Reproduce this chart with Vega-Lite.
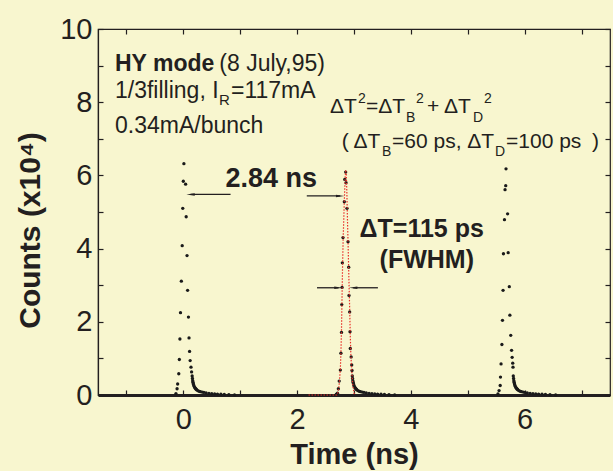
{
  "$schema": "https://vega.github.io/schema/vega-lite/v6.json",
  "width": 512,
  "height": 366,
  "autosize": {"type": "none"},
  "padding": {"left": 98, "top": 29, "right": 3, "bottom": 76},
  "background": "#f8f6cf",
  "config": {
    "font": "Liberation Sans",
    "view": {"stroke": "#231f20", "strokeWidth": 1.2},
    "axis": {"grid": false}
  },
  "datasets": {
    "pts": [
      {"t": -0.13, "c": 0.04}, {"t": -0.11, "c": 0.17}, {"t": -0.1, "c": 0.3}, {"t": -0.08, "c": 0.58}, {"t": -0.07, "c": 0.97}, {"t": -0.06, "c": 1.53}, {"t": -0.05, "c": 2.25}, {"t": -0.035, "c": 3.11}, {"t": -0.02, "c": 4.08}, {"t": -0.01, "c": 5.1}, {"t": 0.0, "c": 5.84}, {"t": 0.01, "c": 6.32}, {"t": 0.04, "c": 5.76}, {"t": 0.05, "c": 4.87}, {"t": 0.065, "c": 3.81}, {"t": 0.075, "c": 2.86}, {"t": 0.09, "c": 2.13}, {"t": 0.1, "c": 1.56}, {"t": 0.11, "c": 1.19}, {"t": 0.12, "c": 0.94}, {"t": 0.135, "c": 0.76}, {"t": 0.145, "c": 0.63},
      {"t": 0.155, "c": 0.52}, {"t": 0.16, "c": 0.45}, {"t": 0.165, "c": 0.39}, {"t": 0.17, "c": 0.35}, {"t": 0.175, "c": 0.31}, {"t": 0.18, "c": 0.28}, {"t": 0.19, "c": 0.24}, {"t": 0.2, "c": 0.21}, {"t": 0.21, "c": 0.185}, {"t": 0.22, "c": 0.165}, {"t": 0.23, "c": 0.15}, {"t": 0.24, "c": 0.135}, {"t": 0.26, "c": 0.115}, {"t": 0.28, "c": 0.1}, {"t": 0.3, "c": 0.09}, {"t": 0.33, "c": 0.08}, {"t": 0.36, "c": 0.07}, {"t": 0.4, "c": 0.06}, {"t": 0.45, "c": 0.045}, {"t": 0.5, "c": 0.035}, {"t": 0.55, "c": 0.03}, {"t": 0.6, "c": 0.025}, {"t": 0.66, "c": 0.02}, {"t": 0.72, "c": 0.015}, {"t": 0.8, "c": 0.01}, {"t": 0.9, "c": 0.005},
      {"t": 2.69, "c": 0.02}, {"t": 2.71, "c": 0.05}, {"t": 2.725, "c": 0.17}, {"t": 2.74, "c": 0.38}, {"t": 2.76, "c": 0.68}, {"t": 2.77, "c": 1.14}, {"t": 2.78, "c": 1.71}, {"t": 2.785, "c": 2.47}, {"t": 2.79, "c": 2.94}, {"t": 2.795, "c": 3.61}, {"t": 2.807, "c": 4.3}, {"t": 2.83, "c": 5.28}, {"t": 2.837, "c": 5.89}, {"t": 2.854, "c": 6.09}, {"t": 2.86, "c": 5.8}, {"t": 2.877, "c": 5.1}, {"t": 2.895, "c": 4.19}, {"t": 2.907, "c": 3.49}, {"t": 2.912, "c": 2.72}, {"t": 2.924, "c": 2.27}, {"t": 2.93, "c": 1.73}, {"t": 2.935, "c": 1.27}, {"t": 2.95, "c": 1.04}, {"t": 2.96, "c": 0.82}, {"t": 2.965, "c": 0.67},
      {"t": 2.97, "c": 0.52}, {"t": 2.975, "c": 0.45}, {"t": 2.98, "c": 0.39}, {"t": 2.985, "c": 0.35}, {"t": 2.99, "c": 0.31}, {"t": 2.995, "c": 0.28}, {"t": 3.005, "c": 0.24}, {"t": 3.015, "c": 0.21}, {"t": 3.025, "c": 0.185}, {"t": 3.035, "c": 0.165}, {"t": 3.045, "c": 0.15}, {"t": 3.055, "c": 0.135}, {"t": 3.075, "c": 0.115}, {"t": 3.095, "c": 0.1}, {"t": 3.115, "c": 0.09}, {"t": 3.145, "c": 0.08}, {"t": 3.175, "c": 0.07}, {"t": 3.215, "c": 0.06}, {"t": 3.265, "c": 0.045}, {"t": 3.315, "c": 0.035}, {"t": 3.365, "c": 0.03}, {"t": 3.415, "c": 0.025}, {"t": 3.475, "c": 0.02}, {"t": 3.535, "c": 0.015}, {"t": 3.615, "c": 0.01}, {"t": 3.715, "c": 0.005},
      {"t": 5.53, "c": 0.03}, {"t": 5.55, "c": 0.12}, {"t": 5.57, "c": 0.26}, {"t": 5.575, "c": 0.49}, {"t": 5.585, "c": 0.85}, {"t": 5.6, "c": 1.38}, {"t": 5.61, "c": 2.04}, {"t": 5.62, "c": 2.86}, {"t": 5.627, "c": 3.86}, {"t": 5.645, "c": 4.79}, {"t": 5.655, "c": 5.61}, {"t": 5.667, "c": 5.72}, {"t": 5.672, "c": 6.18}, {"t": 5.7, "c": 4.95}, {"t": 5.71, "c": 3.89}, {"t": 5.73, "c": 2.96}, {"t": 5.74, "c": 2.18}, {"t": 5.755, "c": 1.63}, {"t": 5.77, "c": 1.22}, {"t": 5.78, "c": 1.03}, {"t": 5.79, "c": 0.87}, {"t": 5.795, "c": 0.76},
      {"t": 5.8, "c": 0.52}, {"t": 5.805, "c": 0.45}, {"t": 5.81, "c": 0.39}, {"t": 5.815, "c": 0.35}, {"t": 5.82, "c": 0.31}, {"t": 5.825, "c": 0.28}, {"t": 5.835, "c": 0.24}, {"t": 5.845, "c": 0.21}, {"t": 5.855, "c": 0.185}, {"t": 5.865, "c": 0.165}, {"t": 5.875, "c": 0.15}, {"t": 5.885, "c": 0.135}, {"t": 5.905, "c": 0.115}, {"t": 5.925, "c": 0.1}, {"t": 5.945, "c": 0.09}, {"t": 5.975, "c": 0.08}, {"t": 6.005, "c": 0.07}, {"t": 6.045, "c": 0.06}, {"t": 6.095, "c": 0.045}, {"t": 6.145, "c": 0.035}, {"t": 6.195, "c": 0.03}, {"t": 6.245, "c": 0.025}, {"t": 6.305, "c": 0.02}, {"t": 6.365, "c": 0.015}, {"t": 6.445, "c": 0.01}, {"t": 6.545, "c": 0.005}
    ],
    "fit": [
      {"t": 2.2, "c": 0}, {"t": 2.4, "c": 0}, {"t": 2.6, "c": 0}, {"t": 2.7, "c": 0}, {"t": 2.72, "c": 0.08}, {"t": 2.74, "c": 0.3}, {"t": 2.76, "c": 0.7}, {"t": 2.77, "c": 1.15}, {"t": 2.78, "c": 1.75}, {"t": 2.79, "c": 2.7}, {"t": 2.8, "c": 3.6}, {"t": 2.81, "c": 4.3}, {"t": 2.83, "c": 5.3}, {"t": 2.845, "c": 5.95}, {"t": 2.855, "c": 6.15}, {"t": 2.865, "c": 6.0}, {"t": 2.875, "c": 5.5}, {"t": 2.885, "c": 4.8}, {"t": 2.895, "c": 4.2}, {"t": 2.91, "c": 3.2}, {"t": 2.925, "c": 2.3}, {"t": 2.935, "c": 1.6}, {"t": 2.945, "c": 1.1}, {"t": 2.955, "c": 0.8}, {"t": 2.965, "c": 0.55}, {"t": 2.98, "c": 0.25}, {"t": 3.0, "c": 0.05}, {"t": 3.02, "c": 0}
    ],
    "arrows": [
      {"t": 0.127, "t2": 0.83, "c": 5.48, "dir": "left"},
      {"t": 2.17, "t2": 2.756, "c": 5.44, "dir": "right"},
      {"t": 2.35, "t2": 2.726, "c": 2.93, "dir": "right"},
      {"t": 2.986, "t2": 3.42, "c": 2.93, "dir": "left"}
    ],
    "notes": [
      {"t": 1.545, "c": 5.69, "text": "2.84 ns", "group": "measure"},
      {"t": 4.19, "c": 4.325, "text": "ΔT=115 ps", "group": "width"},
      {"t": 4.28, "c": 3.46, "text": "(FWHM)", "group": "width"},
      {"t": -1.201, "c": 8.85, "text": "HY mode", "group": "title"},
      {"t": 0.632, "c": 8.85, "text": "(8 July,95)", "group": "info"},
      {"t": -1.201, "c": 8.107, "text": "1/3filling, I", "group": "info"},
      {"t": 0.838, "c": 8.107, "text": "=117mA", "group": "info"},
      {"t": -1.201, "c": 7.15, "text": "0.34mA/bunch", "group": "info"},
      {"t": 0.627, "c": 7.92, "text": "R", "group": "infoscript"},
      {"t": 2.578, "c": 7.7, "text": "ΔT", "group": "formula"},
      {"t": 3.211, "c": 7.7, "text": "=ΔT", "group": "formula"},
      {"t": 4.283, "c": 7.7, "text": "+ ΔT", "group": "formula"},
      {"t": 2.784, "c": 6.74, "text": "( ΔT", "group": "formula"},
      {"t": 3.668, "c": 6.74, "text": "=60 ps, ΔT", "group": "formula"},
      {"t": 5.672, "c": 6.74, "text": "=100 ps", "group": "formula"},
      {"t": 7.183, "c": 6.74, "text": ")", "group": "formula"},
      {"t": 3.07, "c": 7.97, "text": "2", "group": "script"},
      {"t": 3.914, "c": 7.467, "text": "B", "group": "script"},
      {"t": 4.09, "c": 7.97, "text": "2", "group": "script"},
      {"t": 5.092, "c": 7.467, "text": "D", "group": "script"},
      {"t": 5.285, "c": 7.97, "text": "2", "group": "script"},
      {"t": 3.492, "c": 6.53, "text": "B", "group": "script"},
      {"t": 5.478, "c": 6.53, "text": "D", "group": "script"}
    ]
  },
  "layer": [
    {
      "data": {"name": "pts"},
      "mark": {"type": "circle", "size": 11, "color": "#1a1a1a", "opacity": 1},
      "encoding": {
        "x": {
          "field": "t", "type": "quantitative",
          "scale": {"domain": [-1.5, 7.5], "nice": false, "zero": false},
          "axis": {
            "orient": "bottom", "values": [-1, 0, 1, 2, 3, 4, 5, 6, 7],
            "labelExpr": "datum.value % 2 == 0 ? datum.label : ''",
            "tickSize": -5, "tickWidth": 1.2, "tickColor": "#231f20",
            "domainWidth": 3, "domainColor": "#231f20",
            "labelFontSize": 29, "labelColor": "#231f20", "labelPadding": 15,
            "labelFlush": false,
            "title": "Time (ns)", "titleFontSize": 29, "titleFontWeight": "bold",
            "titleColor": "#231f20", "titlePadding": 6
          }
        },
        "y": {
          "field": "c", "type": "quantitative",
          "scale": {"domain": [0, 10], "nice": false, "zero": false},
          "axis": {
            "orient": "left", "values": [0, 1, 2, 3, 4, 5, 6, 7, 8, 9, 10],
            "labelExpr": "datum.value % 2 == 0 ? datum.label : ''",
            "tickSize": -5, "tickWidth": 1.2, "tickColor": "#231f20",
            "domainWidth": 1.2, "domainColor": "#231f20",
            "labelFontSize": 29, "labelColor": "#231f20", "labelPadding": 11,
            "labelFlush": false,
            "title": "Counts (x10⁴)", "titleFontSize": 30, "titleFontWeight": "bold",
            "titleColor": "#231f20", "titlePadding": 14, "titleY": 201
          }
        }
      }
    },
    {
      "data": {"name": "fit"},
      "mark": {"type": "line", "color": "#e8302a", "strokeWidth": 1.2, "strokeDash": [1.5, 1.5]},
      "encoding": {
        "x": {
          "field": "t", "type": "quantitative",
          "axis": {
            "orient": "top", "values": [-1, 0, 1, 2, 3, 4, 5, 6, 7], "labels": false,
            "title": null, "domain": false, "tickSize": -5, "tickWidth": 1.2, "tickColor": "#231f20"
          }
        },
        "y": {
          "field": "c", "type": "quantitative",
          "axis": {
            "orient": "right", "values": [0, 1, 2, 3, 4, 5, 6, 7, 8, 9, 10], "labels": false,
            "title": null, "domain": false, "tickSize": -5, "tickWidth": 1.2, "tickColor": "#231f20"
          }
        }
      }
    },
    {
      "data": {"name": "arrows"},
      "mark": {"type": "rule", "color": "#231f20", "strokeWidth": 1.3},
      "encoding": {
        "x": {"field": "t", "type": "quantitative", "axis": null},
        "x2": {"field": "t2"},
        "y": {"field": "c", "type": "quantitative", "axis": null}
      }
    },
    {
      "data": {"name": "arrows"},
      "transform": [{"filter": "datum.dir == 'left'"}],
      "mark": {"type": "point", "shape": "M-1,0L1,-0.3L1,0.3Z", "size": 70, "filled": true, "color": "#231f20", "opacity": 1},
      "encoding": {
        "x": {"field": "t", "type": "quantitative", "axis": null},
        "y": {"field": "c", "type": "quantitative", "axis": null}
      }
    },
    {
      "data": {"name": "arrows"},
      "transform": [{"filter": "datum.dir == 'right'"}],
      "mark": {"type": "point", "shape": "M1,0L-1,-0.3L-1,0.3Z", "size": 70, "filled": true, "color": "#231f20", "opacity": 1},
      "encoding": {
        "x": {"field": "t2", "type": "quantitative", "axis": null},
        "y": {"field": "c", "type": "quantitative", "axis": null}
      }
    },
    {
      "data": {"name": "notes"},
      "transform": [{"filter": "datum.group == 'measure'"}],
      "mark": {"type": "text", "align": "center", "baseline": "alphabetic", "fontSize": 27, "fontWeight": "bold", "color": "#231f20"},
      "encoding": {
        "x": {"field": "t", "type": "quantitative", "axis": null},
        "y": {"field": "c", "type": "quantitative", "axis": null},
        "text": {"field": "text"}
      }
    },
    {
      "data": {"name": "notes"},
      "transform": [{"filter": "datum.group == 'width'"}],
      "mark": {"type": "text", "align": "center", "baseline": "alphabetic", "fontSize": 25, "fontWeight": "bold", "color": "#231f20"},
      "encoding": {
        "x": {"field": "t", "type": "quantitative", "axis": null},
        "y": {"field": "c", "type": "quantitative", "axis": null},
        "text": {"field": "text"}
      }
    },
    {
      "data": {"name": "notes"},
      "transform": [{"filter": "datum.group == 'title'"}],
      "mark": {"type": "text", "align": "left", "baseline": "alphabetic", "fontSize": 23, "fontWeight": "bold", "color": "#231f20"},
      "encoding": {
        "x": {"field": "t", "type": "quantitative", "axis": null},
        "y": {"field": "c", "type": "quantitative", "axis": null},
        "text": {"field": "text"}
      }
    },
    {
      "data": {"name": "notes"},
      "transform": [{"filter": "datum.group == 'info'"}],
      "mark": {"type": "text", "align": "left", "baseline": "alphabetic", "fontSize": 23, "color": "#231f20"},
      "encoding": {
        "x": {"field": "t", "type": "quantitative", "axis": null},
        "y": {"field": "c", "type": "quantitative", "axis": null},
        "text": {"field": "text"}
      }
    },
    {
      "data": {"name": "notes"},
      "transform": [{"filter": "datum.group == 'infoscript'"}],
      "mark": {"type": "text", "align": "left", "baseline": "alphabetic", "fontSize": 15, "color": "#231f20"},
      "encoding": {
        "x": {"field": "t", "type": "quantitative", "axis": null},
        "y": {"field": "c", "type": "quantitative", "axis": null},
        "text": {"field": "text"}
      }
    },
    {
      "data": {"name": "notes"},
      "transform": [{"filter": "datum.group == 'formula'"}],
      "mark": {"type": "text", "align": "left", "baseline": "alphabetic", "fontSize": 21, "color": "#231f20"},
      "encoding": {
        "x": {"field": "t", "type": "quantitative", "axis": null},
        "y": {"field": "c", "type": "quantitative", "axis": null},
        "text": {"field": "text"}
      }
    },
    {
      "data": {"name": "notes"},
      "transform": [{"filter": "datum.group == 'script'"}],
      "mark": {"type": "text", "align": "left", "baseline": "alphabetic", "fontSize": 14, "color": "#231f20"},
      "encoding": {
        "x": {"field": "t", "type": "quantitative", "axis": null},
        "y": {"field": "c", "type": "quantitative", "axis": null},
        "text": {"field": "text"}
      }
    }
  ],
  "resolve": {"axis": {"x": "independent", "y": "independent"}}
}
